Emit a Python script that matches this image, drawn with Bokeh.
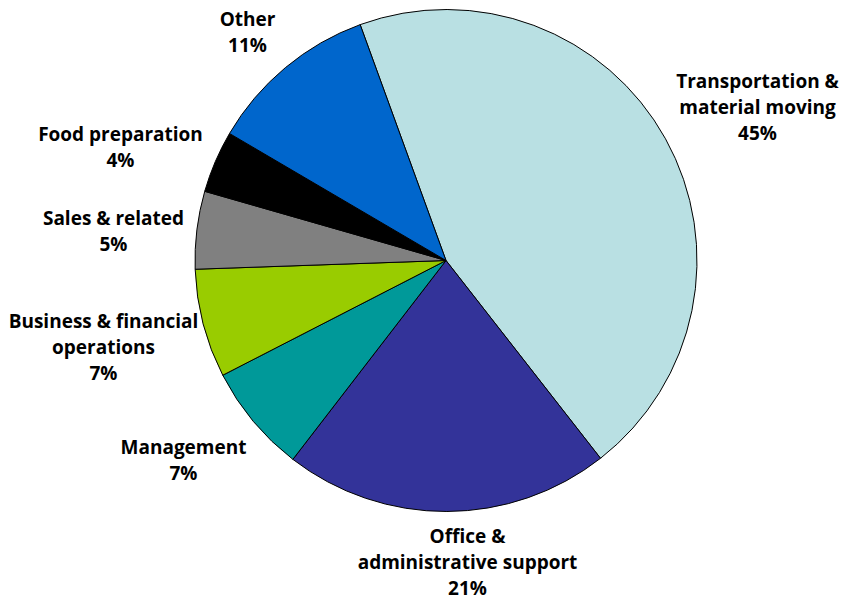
import math
from bokeh.plotting import figure
from bokeh.models import ColumnDataSource, Range1d
from bokeh.core.properties import value
from bokeh.embed import file_html
from bokeh.resources import INLINE

# Share of jobs by occupation group (percent), clockwise from the top
categories = [
    "Transportation & material moving",
    "Office & administrative support",
    "Management",
    "Business & financial operations",
    "Sales & related",
    "Food preparation",
    "Other",
]
shares = [45, 21, 7, 7, 5, 4, 11]
colors = ["#B9E0E3", "#333399", "#009999", "#99CC00", "#808080", "#000000", "#0066CC"]

# How each category name is broken over lines in its label
label_lines = [
    ["Transportation &", "material moving"],
    ["Office &", "administrative support"],
    ["Management"],
    ["Business & financial", "operations"],
    ["Sales & related"],
    ["Food preparation"],
    ["Other"],
]

W, H = 843, 601
CX, CY, R = 445.5, H - 260, 251
START_DEG = 110  # first wedge starts 20 degrees left of twelve o'clock

# label block anchors (centre x, centre y of first line, in page pixels from top)
label_pos = [(757, 80), (467, 535), (183, 446), (103, 320), (113, 217), (120, 133), (247, 18)]
LINE_H = 26.3

total = sum(shares)
starts, ends = [], []
acc = 0
for s in shares:
    a0 = math.radians(START_DEG) - acc / total * 2 * math.pi
    acc += s
    a1 = math.radians(START_DEG) - acc / total * 2 * math.pi
    starts.append(a0)
    ends.append(a1)

wedges = ColumnDataSource(dict(cat=categories, share=shares, color=colors,
                               start=starts, end=ends))

p = figure(width=W, height=H, output_backend="svg", toolbar_location=None,
           x_range=Range1d(0, W), y_range=Range1d(0, H), min_border=0)
p.axis.visible = False
p.grid.visible = False
p.outline_line_color = None
p.background_fill_color = "white"

p.wedge(x=CX, y=CY, radius=R, start_angle="start", end_angle="end",
        direction="clock", fill_color="color", line_color="black",
        line_width=1, source=wedges)

tx, ty, tt = [], [], []
for lines, s, (lx, ly) in zip(label_lines, shares, label_pos):
    for i, t in enumerate(lines + [f"{s}%"]):
        tx.append(lx)
        ty.append(H - (ly + i * LINE_H))
        tt.append(t)

p.text(x=tx, y=ty, text=tt, text_align="center", text_baseline="middle",
       text_font=value("Open Sans"), text_font_style="bold", text_font_size="19px",
       text_color="black")

open("out.html", "w").write(file_html(p, INLINE))
